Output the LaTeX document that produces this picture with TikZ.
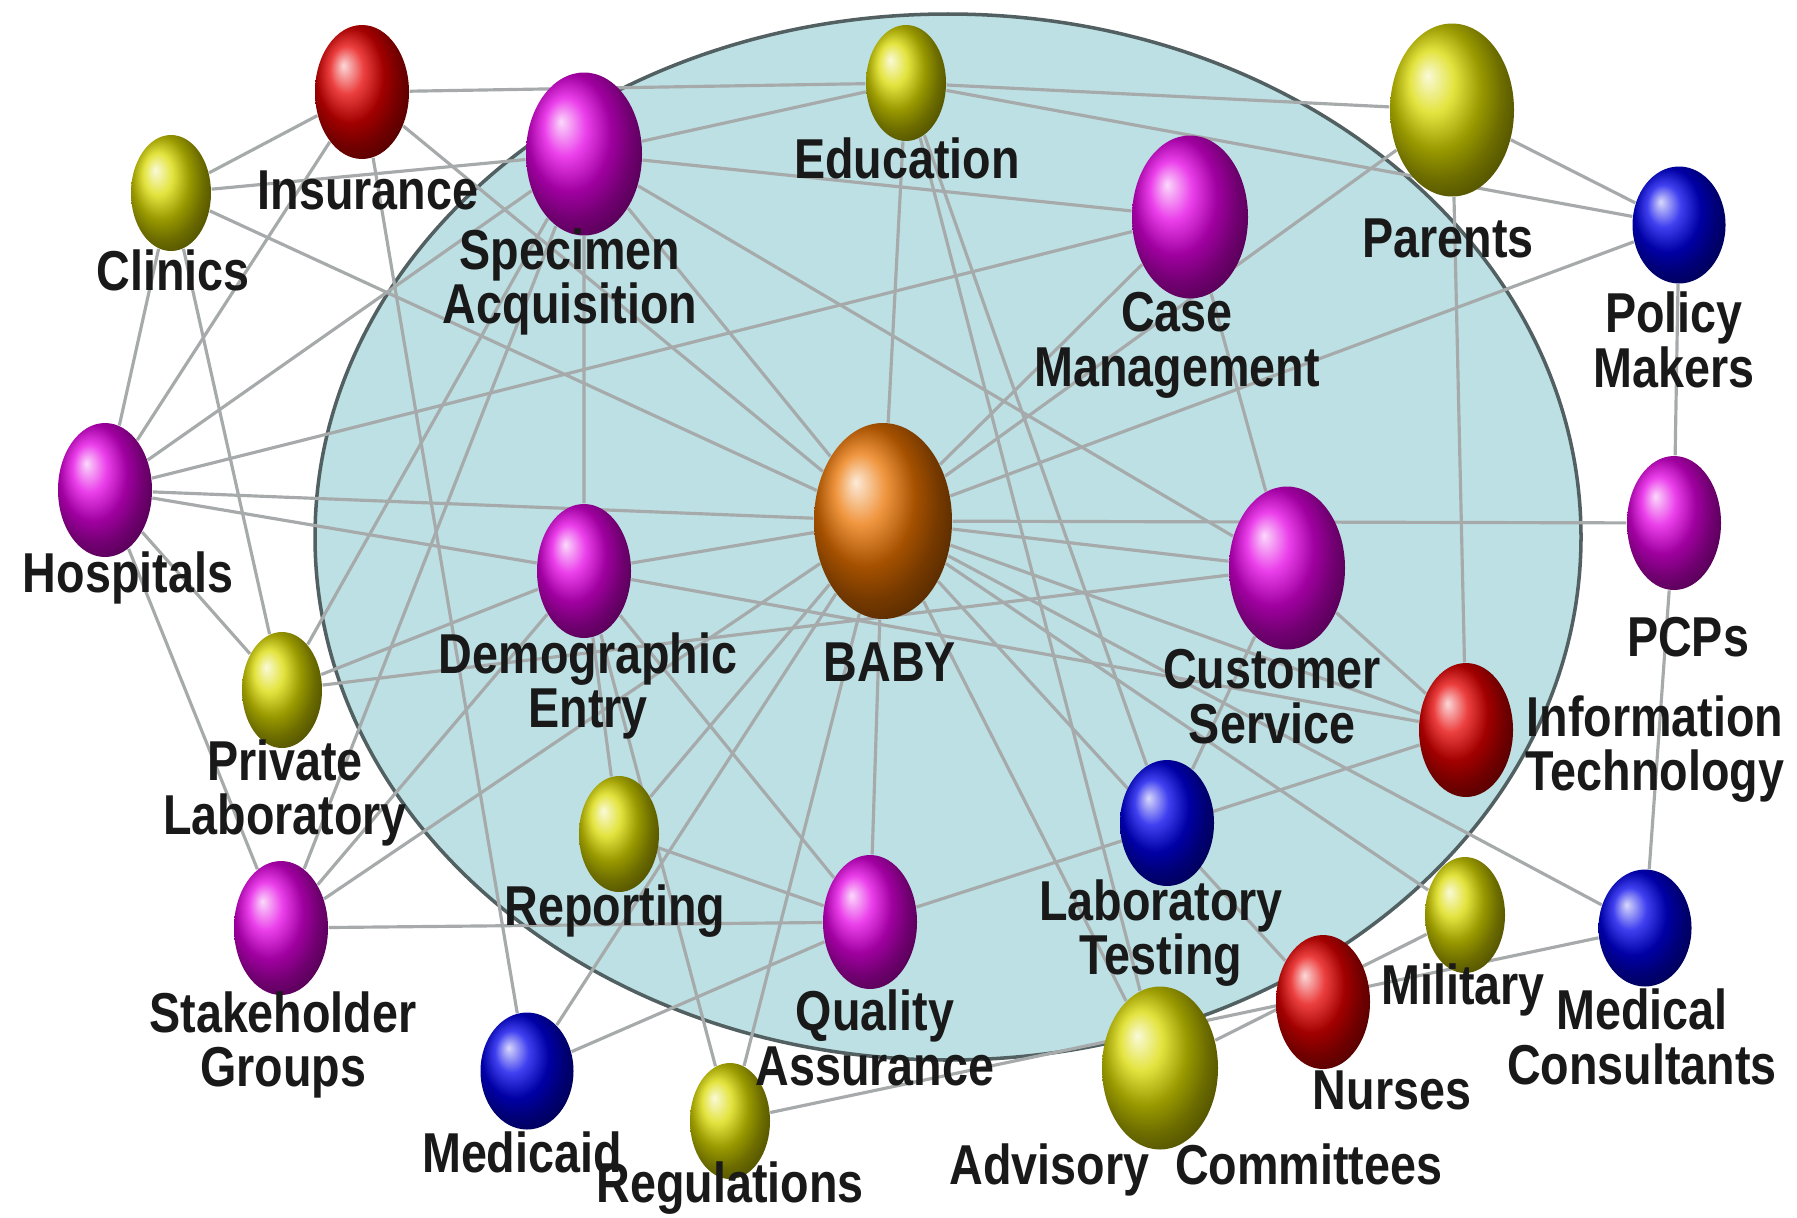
\documentclass[tikz,border=0pt]{standalone}
\usepackage{fontspec}
\usepackage{tikz}
\usetikzlibrary{shapes.geometric,backgrounds}
\newfontfamily\lblfont[FakeStretch=0.83]{Liberation Sans}
\definecolor{npool}{RGB}{188,224,227}
\definecolor{nrim}{RGB}{82,96,98}
\definecolor{nwire}{RGB}{166,170,170}
\definecolor{nred}{RGB}{230,0,0}
\definecolor{nyel}{RGB}{218,218,0}
\definecolor{nmag}{RGB}{228,0,228}
\definecolor{nblu}{RGB}{0,0,235}
\definecolor{nora}{RGB}{235,115,0}
\tikzset{
	ball/.style = { ellipse, inner sep=0pt, ball color=#1 },
	s1/.style = { minimum width=8mm, minimum height=11.6mm },
	s2/.style = { minimum width=9.3mm, minimum height=11.7mm },
	s3/.style = { minimum width=9.4mm, minimum height=13.4mm },
	s4/.style = { minimum width=11.6mm, minimum height=16.3mm },
	lbl/.style = { align=center, inner sep=0pt, text=black!90, font=\lblfont\bfseries\fontsize{16}{15.6}\selectfont },
	link/.style = { draw=nwire, line width=0.9pt },
}

\begin{document}
\begin{tikzpicture}[x=0.1mm, y=-0.1mm]
\useasboundingbox (0,0) rectangle (1797,1217);

% balls
\node (ins) [ball=nred, s3] at (362,92)   {};
\node (cln) [ball=nyel, s1] at (171,193)  {};
\node (spc) [ball=nmag, s4] at (584,154)  {};
\node (edu) [ball=nyel, s1] at (906,83)   {};
\node (par) [ball=nyel, s4, minimum width=12.4mm, minimum height=17.3mm] at (1452,110) {};
\node (cas) [ball=nmag, s4] at (1190,217) {};
\node (pol) [ball=nblu, s2] at (1679,225) {};
\node (hos) [ball=nmag, s3] at (105,490)  {};
\node (bby) [ball=nora, minimum width=13.8mm, minimum height=19.6mm, inner sep=0pt] at (883,521) {};
\node (dem) [ball=nmag, s3] at (584,571)  {};
\node (cus) [ball=nmag, s4] at (1287,568) {};
\node (pcp) [ball=nmag, s3] at (1674,523) {};
\node (prv) [ball=nyel, s1] at (282,690)  {};
\node (inf) [ball=nred, s3] at (1466,730) {};
\node (rep) [ball=nyel, s1] at (619,834)  {};
\node (lab) [ball=nblu, s3, minimum height=12.6mm] at (1167,823) {};
\node (qua) [ball=nmag, s3] at (870,922)  {};
\node (stk) [ball=nmag, s3] at (281,928)  {};
\node (mil) [ball=nyel, s1] at (1465,915) {};
\node (med) [ball=nblu, s2] at (1645,928) {};
\node (nur) [ball=nred, s3] at (1323,1002) {};
\node (adv) [ball=nyel, s4] at (1160,1068) {};
\node (mcd) [ball=nblu, s2] at (527,1071) {};
\node (reg) [ball=nyel, s1] at (730,1121) {};

% labels
\node (ins-l) [lbl] at (368,190)   {Insurance};
\node (cln-l) [lbl] at (173,270)   {Clinics};
\node (spc-l) [lbl] at (570,282)   {Specimen\\Acquisition};
\node (edu-l) [lbl] at (907,158)   {Education};
\node (par-l) [lbl] at (1448,238)  {Parents};
\node (cas-l) [lbl] at (1177,345)  {Case\\Management};
\node (pol-l) [lbl] at (1674,340)  {Policy\\Makers};
\node (hos-l) [lbl] at (128,578)   {Hospitals};
\node (bby-l) [lbl] at (890,662)   {BABY};
\node (dem-l) [lbl] at (588,686)   {Demographic\\Entry};
\node (cus-l) [lbl] at (1272,697)  {Customer\\Service};
\node (pcp-l) [lbl] at (1688,637)  {PCPs};
\node (inf-l) [lbl] at (1655,749)  {Information\\Technology};
\node (prv-l) [lbl] at (285,793)   {Private\\Laboratory};
\node (rep-l) [lbl] at (615,911)   {Reporting};
\node (lab-l) [lbl] at (1161,933)  {Laboratory\\Testing};
\node (qua-l) [lbl] at (875,1038)  {Quality\\Assurance};
\node (stk-l) [lbl] at (283,1045)  {Stakeholder\\Groups};
\node (mil-l) [lbl] at (1463,990)  {Military};
\node (med-l) [lbl] at (1642,1037) {Medical\\Consultants};
\node (nur-l) [lbl] at (1392,1090) {Nurses};
\node (adv-l) [lbl] at (1196,1170) {Advisory~~Committees};
\node (mcd-l) [lbl] at (522,1152)  {Medicaid};
\node (reg-l) [lbl] at (730,1188)  {Regulations};

\begin{scope}[on background layer]
\filldraw[fill=npool, draw=nrim, line width=1pt] (948,537) ellipse [x radius=6.33cm, y radius=5.23cm];

\draw[link] (ins) -- (edu)  (ins) -- (cln)  (ins) -- (hos)  (ins) -- (mcd)  (ins) -- (bby);
\draw[link] (cln) -- (spc)  (cln) -- (bby)  (cln) -- (hos)  (cln) -- (prv);
\draw[link] (spc) -- (edu)  (spc) -- (cas)  (spc) -- (cus)  (spc) -- (bby)
            (spc) -- (dem)  (spc) -- (hos)  (spc) -- (prv)  (spc) -- (stk);
\draw[link] (edu) -- (par)  (edu) -- (bby)  (edu) -- (pol)  (edu) -- (lab)  (edu) -- (adv);
\draw[link] (par) -- (pol)  (par) -- (bby)  (par) -- (inf);
\draw[link] (cas) -- (hos)  (cas) -- (bby)  (cas) -- (cus);
\draw[link] (pol) -- (bby)  (pol) -- (pcp);
\draw[link] (pcp) -- (bby)  (pcp) -- (med);
\draw[link] (hos) -- (bby)  (hos) -- (dem)  (hos) -- (prv)  (hos) -- (stk);
\draw[link] (dem) -- (bby)  (dem) -- (rep)  (dem) -- (qua)  (dem) -- (inf)
            (dem) -- (prv)  (dem) -- (stk)  (dem) -- (reg);
\draw[link] (prv) -- (cus);
\draw[link] (stk) -- (qua)  (stk) -- (bby);
\draw[link] (bby) -- (cus)  (bby) -- (inf)  (bby) -- (med)  (bby) -- (mil)  (bby) -- (nur)
            (bby) -- (adv)  (bby) -- (qua)  (bby) -- (rep)  (bby) -- (mcd)  (bby) -- (reg);
\draw[link] (cus) -- (inf)  (cus) -- (lab);
\draw[link] (qua) -- (inf)  (qua) -- (rep)  (qua) -- (mcd);
\draw[link] (reg) -- (med);
\draw[link] (adv) -- (mil);
\end{scope}
\end{tikzpicture}
\end{document}
